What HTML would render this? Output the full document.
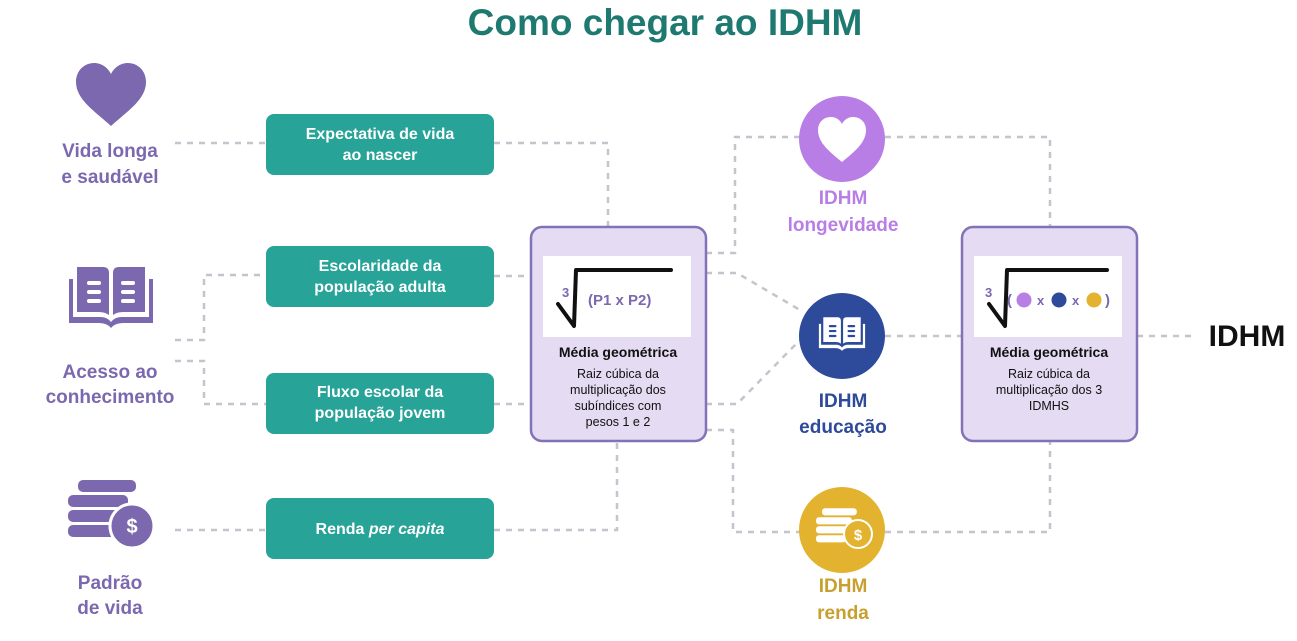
<!DOCTYPE html>
<html><head><meta charset="utf-8"><style>
html,body{margin:0;padding:0;background:#fff;}
svg{display:block;font-family:"Liberation Sans",sans-serif;}
</style></head><body>
<svg width="1297" height="641" viewBox="0 0 1297 641" xmlns="http://www.w3.org/2000/svg">
<defs>
<g id="book">
 <path d="M-42,-22 h4 v38 h28 q6,0 10,5 q4,-5 10,-5 h28 v-38 h4 v44 h-30 q-8,0 -12,5 q-4,-5 -12,-5 h-30z"/>
 <path d="M-34,-34 h26 q6,0 6,6 v42 q-4,-3 -10,-3 h-22z M34,-34 h-26 q-6,0 -6,6 v42 q4,-3 10,-3 h22z"/>
</g>
<g id="coins">
 <rect x="-30" y="-33" width="58" height="12" rx="5"/>
 <rect x="-40" y="-18" width="60" height="12" rx="5"/>
 <rect x="-40" y="-3" width="52" height="12" rx="5"/>
 <rect x="-40" y="12" width="50" height="12" rx="5"/>
</g>
</defs>
<text x="665" y="35" text-anchor="middle" font-size="37" font-weight="bold" fill="#1e7a70">Como chegar ao IDHM</text>

<g fill="none" stroke="#c5c3cc" stroke-width="2.5" stroke-dasharray="6 6">
<path d="M175,143 H266"/>
<path d="M494,143 H608 V227"/>
<path d="M175,340 H204 V275 H266"/>
<path d="M175,361 H204 V404 H266"/>
<path d="M494,276 H531"/>
<path d="M494,404 H531"/>
<path d="M175,530 H266"/>
<path d="M494,530 H617 V441"/>
<path d="M706,253 H735 V137 H800"/>
<path d="M885,137 H1050 V227"/>
<path d="M706,273 H737 L800,310"/>
<path d="M706,404 H737 L800,340"/>
<path d="M706,430 H733 V532 H800"/>
<path d="M885,532 H1050 V441"/>
<path d="M885,336 H962"/>
<path d="M1137,336 H1195"/>
</g>

<!-- left icons -->
<g fill="#7b68ae">
<path d="M111,126 C96,112 76,100 76,82 C76,70 85,63 94,63 C102,63 108,68 111,74 C114,68 120,63 128,63 C137,63 146,70 146,82 C146,100 126,112 111,126Z"/>
<g transform="translate(111,301)"><use href="#book"/></g>
<g transform="translate(108,513)"><use href="#coins"/></g>
<circle cx="132" cy="526" r="22" stroke="#fff" stroke-width="3"/>
</g>
<g fill="#fff" transform="translate(111,301)">
<rect x="-24" y="-20" width="14" height="4" rx="2"/><rect x="-24" y="-11" width="14" height="4" rx="2"/><rect x="-24" y="-2" width="14" height="4" rx="2"/>
<rect x="10" y="-20" width="14" height="4" rx="2"/><rect x="10" y="-11" width="14" height="4" rx="2"/><rect x="10" y="-2" width="14" height="4" rx="2"/>
</g>
<text x="132" y="533" text-anchor="middle" font-size="20" font-weight="bold" fill="#fff">$</text>

<g font-size="19" font-weight="bold" fill="#7b68ae" text-anchor="middle">
<text x="110" y="157">Vida longa</text><text x="110" y="183">e saudável</text>
<text x="110" y="378">Acesso ao</text><text x="110" y="403">conhecimento</text>
<text x="110" y="589">Padrão</text><text x="110" y="614">de vida</text>
</g>

<!-- teal boxes -->
<g fill="#27a398">
<rect x="266" y="114" width="228" height="61" rx="8"/>
<rect x="266" y="246" width="228" height="61" rx="8"/>
<rect x="266" y="373" width="228" height="61" rx="8"/>
<rect x="266" y="498" width="228" height="61" rx="8"/>
</g>
<g font-size="16" font-weight="bold" fill="#fff" text-anchor="middle">
<text x="380" y="139">Expectativa de vida</text><text x="380" y="160">ao nascer</text>
<text x="380" y="271">Escolaridade da</text><text x="380" y="292">população adulta</text>
<text x="380" y="397">Fluxo escolar da</text><text x="380" y="418">população jovem</text>
<text x="380" y="534">Renda <tspan font-style="italic">per capita</tspan></text>
</g>

<!-- media boxes -->
<g fill="#e5dbf2" stroke="#8273b8" stroke-width="2.5">
<rect x="531" y="227" width="175" height="214" rx="11"/>
<rect x="962" y="227" width="175" height="214" rx="11"/>
</g>
<rect x="543" y="256" width="148" height="81" fill="#fff"/>
<rect x="974" y="256" width="148" height="81" fill="#fff"/>
<g fill="none" stroke="#111" stroke-width="4" stroke-linejoin="round" stroke-linecap="round">
<path d="M558,304 L574,326 L576,270 H671"/>
<path d="M989,304 L1005,326 L1007,270 H1107"/>
</g>
<g font-weight="bold" fill="#7b68ae">
<text x="562" y="297" font-size="13">3</text>
<text x="588" y="305" font-size="15">(P1 x P2)</text>
<text x="985" y="297" font-size="13">3</text>
<text x="1007" y="305" font-size="15">(</text>
<text x="1037" y="305" font-size="13">x</text>
<text x="1072" y="305" font-size="13">x</text>
<text x="1105" y="305" font-size="15">)</text>
</g>
<circle cx="1024" cy="300" r="7.5" fill="#b87ee6"/>
<circle cx="1059" cy="300" r="7.5" fill="#2e4a9a"/>
<circle cx="1094" cy="300" r="7.5" fill="#e3b22f"/>
<g text-anchor="middle" fill="#111">
<text x="618" y="357" font-size="14" font-weight="bold">Média geométrica</text>
<text x="618" y="378" font-size="12.5">Raiz cúbica da</text>
<text x="618" y="394" font-size="12.5">multiplicação dos</text>
<text x="618" y="410" font-size="12.5">subíndices com</text>
<text x="618" y="426" font-size="12.5">pesos 1 e 2</text>
<text x="1049" y="357" font-size="14" font-weight="bold">Média geométrica</text>
<text x="1049" y="378" font-size="12.5">Raiz cúbica da</text>
<text x="1049" y="394" font-size="12.5">multiplicação dos 3</text>
<text x="1049" y="410" font-size="12.5">IDMHS</text>
</g>

<!-- circles -->
<circle cx="842" cy="139" r="43" fill="#b87ee6"/>
<path d="M842,162 C830,152 818,143 818,130 C818,122 824,117 831,117 C836,117 840,120 842,124 C844,120 848,117 853,117 C860,117 866,122 866,130 C866,143 854,152 842,162Z" fill="#fff"/>
<circle cx="842" cy="336" r="43" fill="#2e4a9a"/>
<g transform="translate(842,336) scale(0.55)" fill="#fff"><use href="#book"/></g>
<g transform="translate(842,336) scale(0.55)" fill="#2e4a9a">
<rect x="-24" y="-20" width="14" height="4" rx="2"/><rect x="-24" y="-11" width="14" height="4" rx="2"/><rect x="-24" y="-2" width="14" height="4" rx="2"/>
<rect x="10" y="-20" width="14" height="4" rx="2"/><rect x="10" y="-11" width="14" height="4" rx="2"/><rect x="10" y="-2" width="14" height="4" rx="2"/>
</g>
<circle cx="842" cy="530" r="43" fill="#e3b22f"/>
<g transform="translate(840,528) scale(0.6)" fill="#fff"><use href="#coins"/></g>
<circle cx="858" cy="534" r="14" fill="#e3b22f" stroke="#fff" stroke-width="2"/>
<text x="858" y="540" text-anchor="middle" font-size="15" font-weight="bold" fill="#fff">$</text>

<g font-size="19" font-weight="bold" text-anchor="middle">
<text x="843" y="204" fill="#b87ee6">IDHM</text><text x="843" y="231" fill="#b87ee6">longevidade</text>
<text x="843" y="407" fill="#2e4a9a">IDHM</text><text x="843" y="433" fill="#2e4a9a">educação</text>
<text x="843" y="592" fill="#c9a030">IDHM</text><text x="843" y="619" fill="#c9a030">renda</text>
</g>
<text x="1247" y="346" text-anchor="middle" font-size="30" font-weight="bold" fill="#111">IDHM</text>
</svg>
</body></html>
